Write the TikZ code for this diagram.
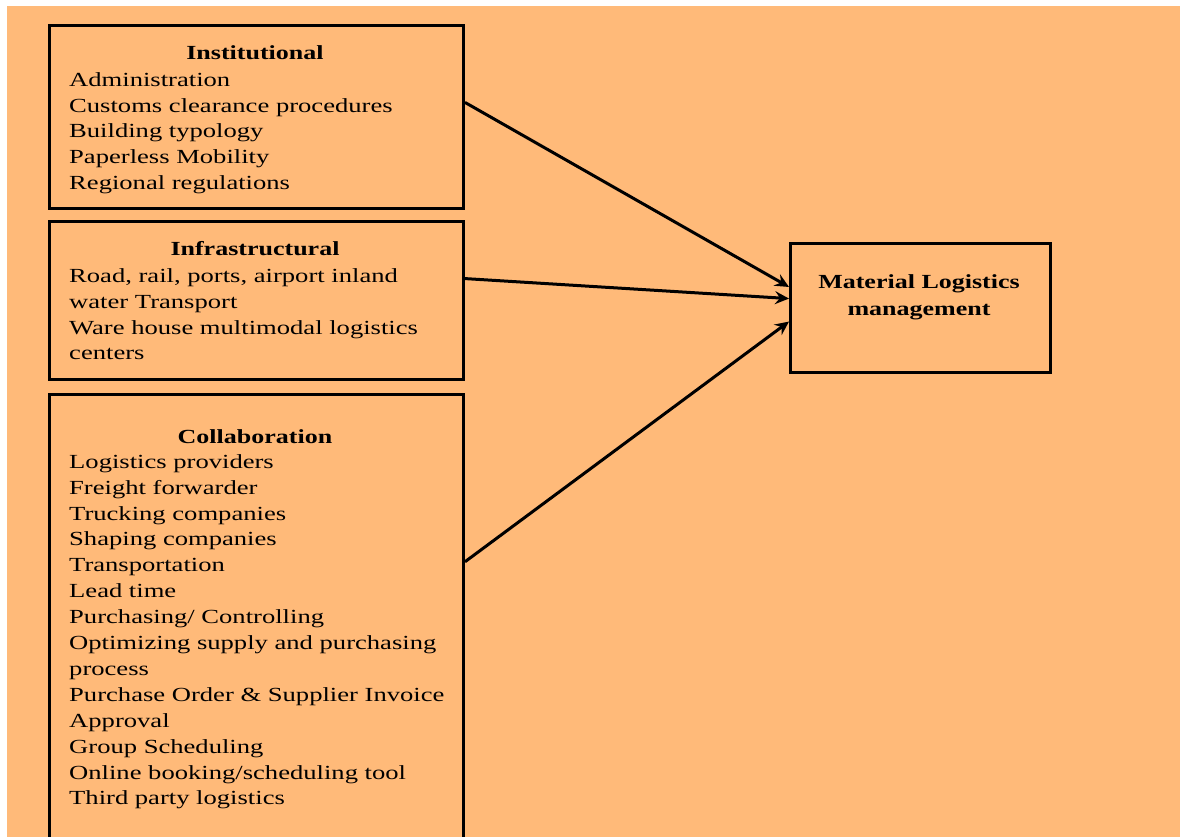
\documentclass[tikz,border=0pt]{standalone}
\usepackage{fontspec}
\setmainfont{Liberation Serif}[FakeStretch=1.3]
\newfontfamily\itemfont{Liberation Serif}[FakeStretch=1.33]
\usetikzlibrary{arrows.meta}
\definecolor{paper}{RGB}{255,186,121}
\newcommand\firstline{\rule{0pt}{18pt}}
\tikzset{
  panel/.style={draw=black, line width=3pt, rectangle, inner sep=0pt, anchor=north west},
  goalbox/.style={draw=black, line width=2.5pt, rectangle, inner sep=0pt, anchor=north west},
  heading/.style={font=\fontsize{20}{26}\selectfont\bfseries, inner sep=0pt, anchor=base},
  items/.style={font=\itemfont\fontsize{20}{25.9}\selectfont, align=left, inner sep=0pt, anchor=north west},
  link/.style={line width=3pt, -{Stealth[length=14pt,width=13pt,inset=5pt]}}
}
\begin{document}
\begin{tikzpicture}[x=1pt,y=-1pt]
\useasboundingbox (0,0) rectangle (1180,837);
\fill[white] (0,0) rectangle (1180,837);
\fill[paper] (7,6) rectangle (1180,837);

% factor boxes
\node[panel, minimum width=414pt, minimum height=183pt] (inst) at (48,24) {};
\node[panel, minimum width=414pt, minimum height=158pt] (infra) at (48,220) {};
\node[panel, minimum width=414pt, minimum height=470pt] (collab) at (48,393) {};
\node[goalbox, minimum width=260pt, minimum height=129pt] (mat) at (789,242) {};

% box contents
\node[heading] (instT) at (255,60) {Institutional};
\node[items] (instL) at (69,86-18) {\firstline Administration\\
Customs clearance procedures\\
Building typology\\
Paperless Mobility\\
Regional regulations};

\node[heading] (infraT) at (255,255) {Infrastructural};
\node[items] (infraL) at (69,282-18) {\firstline Road, rail, ports, airport inland\\
water Transport\\
Ware house multimodal logistics\\
centers};

\node[heading] (collabT) at (255,443) {Collaboration};
\node[items] (collabL) at (69,468-18) {\firstline Logistics providers\\
Freight forwarder\\
Trucking companies\\
Shaping companies\\
Transportation\\
Lead time\\
Purchasing/ Controlling\\
Optimizing supply and purchasing\\
process\\
Purchase Order \& Supplier Invoice\\
Approval\\
Group Scheduling\\
Online booking/scheduling tool\\
Third party logistics};

\node[heading] (matT1) at (919,288) {Material Logistics};
\node[heading] (matT2) at (919,315) {management};

% influences
\draw[link] (inst.4) -- (mat.171.9);
\draw[link] (infra.6) -- (mat.176.3);
\draw[link] (collab.18.3) -- (mat.186.8);
\end{tikzpicture}
\end{document}
